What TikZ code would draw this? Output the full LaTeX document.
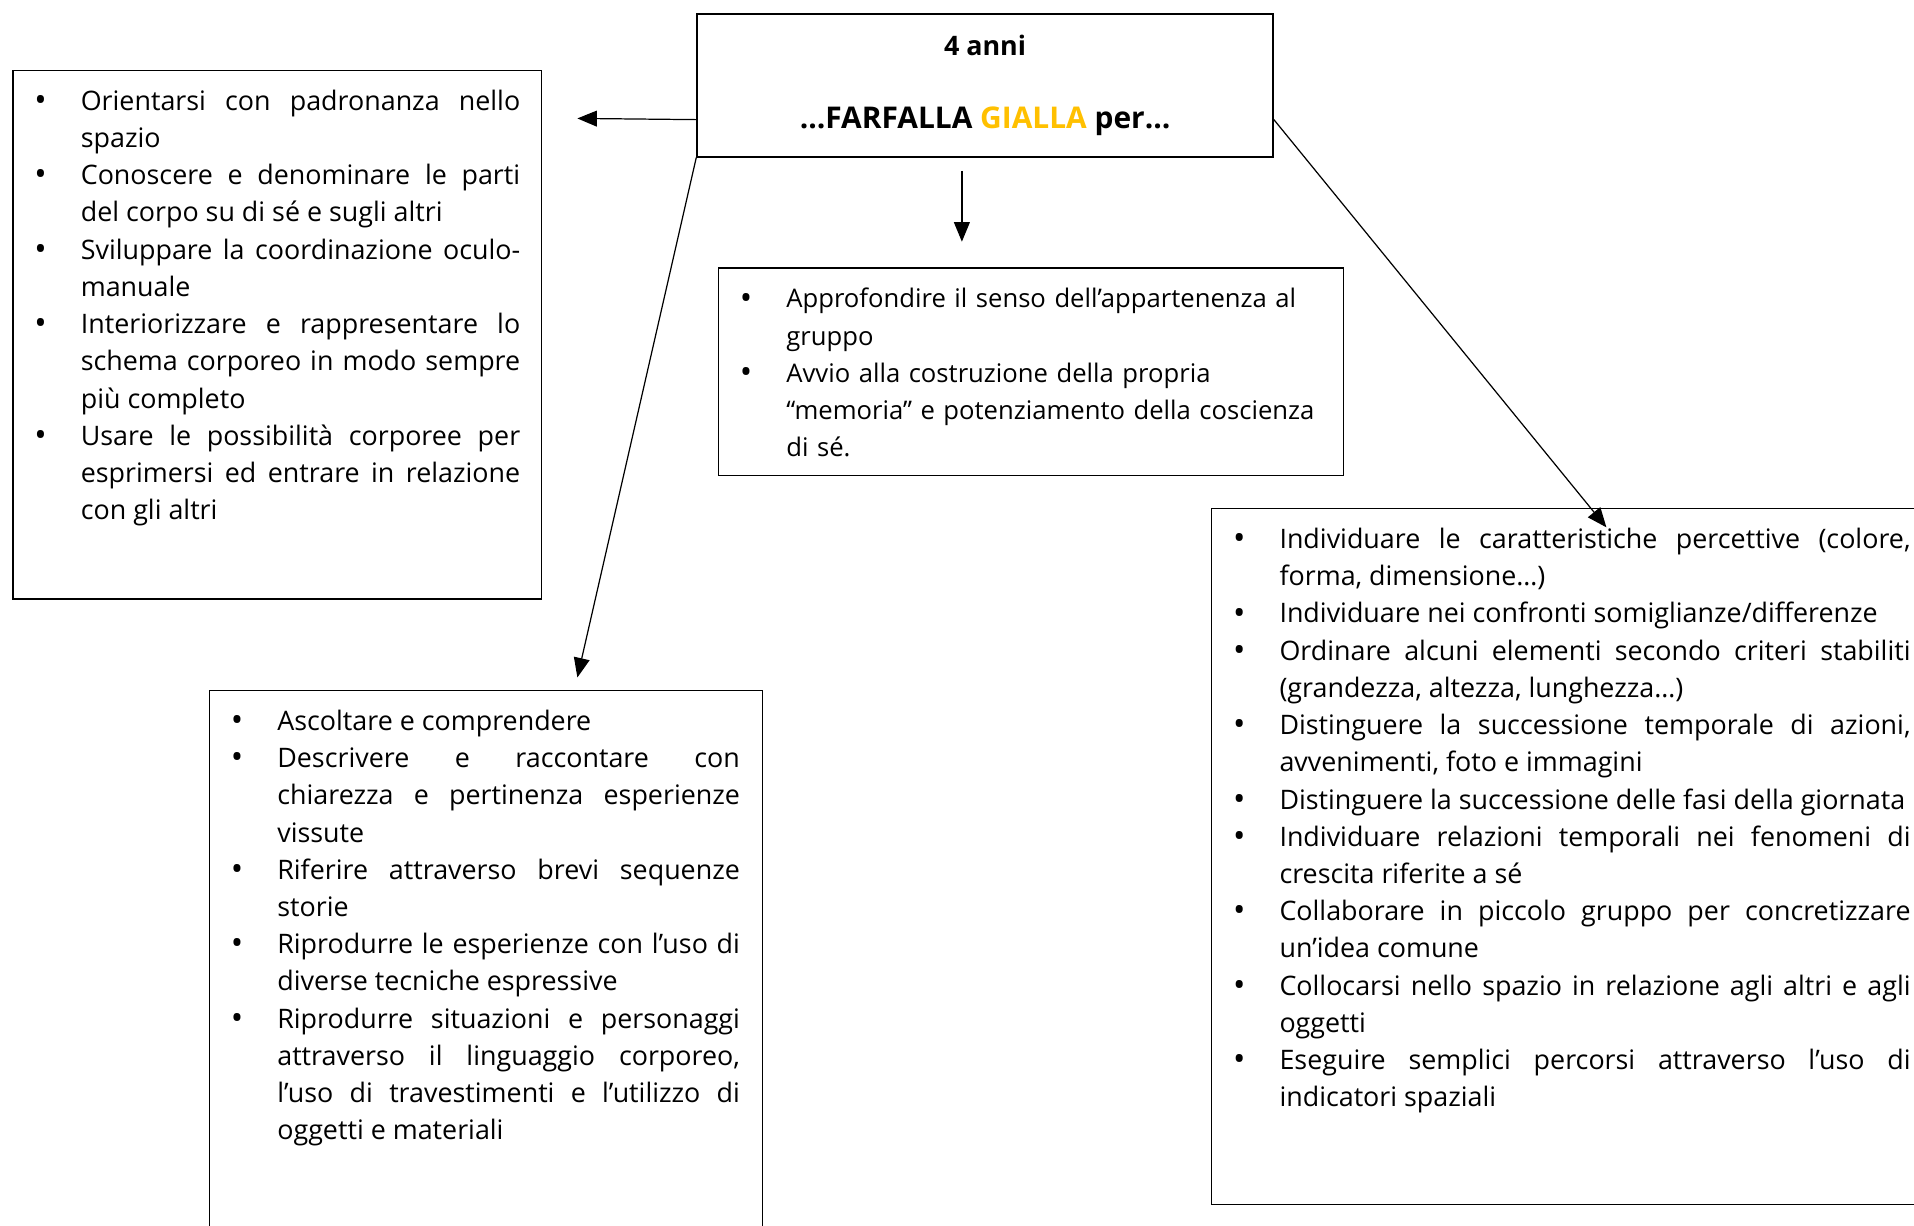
\documentclass[tikz,border=0pt]{standalone}
\usepackage{fontspec}
\setmainfont{Open Sans}
\usetikzlibrary{arrows.meta}

\definecolor{giallo}{HTML}{FFC000}
\tolerance=9999
\hyphenpenalty=10000
\newlength{\rientro}
\setlength{\rientro}{38pt}
\newcommand{\punto}{\par\noindent\hangindent=\rientro\hangafter=1\hbox to\rientro{\raisebox{-1pt}{\fontsize{27}{30}\selectfont\textbullet}\hfil}}

\begin{document}
\begin{tikzpicture}
	[x=1pt,y=-1pt,
	riquadro/.style={draw,line width=1.2pt,inner sep=0pt},
	elenco/.style={inner sep=0pt,anchor=north west,align=justify,
		font=\fontsize{22}{30.5}\selectfont},
	freccia/.style={-{Triangle[length=16pt,width=13pt]},line width=1pt}]
	\useasboundingbox (0,0) rectangle (1568,1004);

	% titolo
	\node[riquadro,minimum width=472,minimum height=117,align=center,
		font=\fontsize{22}{30.5}\selectfont\bfseries] (centro) at (807,70)
		{4 anni\\[30pt]{\fontsize{24.5}{30.5}\selectfont …FARFALLA \textcolor{giallo}{GIALLA} per…}};

	% riquadri
	\node[riquadro,minimum width=433,minimum height=433,anchor=north west] (motorio) at (10,57) {};
	\node[riquadro,minimum width=512,minimum height=170,anchor=north west] (identita) at (588,219) {};
	\node[riquadro,minimum width=453,minimum height=470,anchor=north west] (linguaggi) at (171,565) {};
	\node[riquadro,minimum width=593,minimum height=570,anchor=north west] (mondo) at (992,416) {};

	% testi
	\node[elenco,text width=398] (tmotorio) at ([xshift=18pt,yshift=-2.6pt]motorio.north west) {%
		\punto Orientarsi con padronanza nello\linebreak spazio
		\punto Conoscere e denominare le parti\linebreak del corpo su di sé e sugli altri
		\punto Sviluppare la coordinazione oculo-\linebreak manuale
		\punto Interiorizzare e rappresentare lo\linebreak schema corporeo in modo sempre\linebreak più completo
		\punto Usare le possibilità corporee per\linebreak esprimersi ed entrare in relazione\linebreak con gli altri\par};
	\node[elenco,align=left,text width=500,font=\fontsize{21}{30.5}\selectfont] (tidentita) at ([xshift=18pt,yshift=-2.6pt]identita.north west) {%
		\punto Approfondire il senso dell’appartenenza al\linebreak gruppo
		\punto Avvio alla costruzione della propria\linebreak “memoria” e potenziamento della coscienza\linebreak di sé.\par};
	\node[elenco,text width=417] (tlinguaggi) at ([xshift=18pt,yshift=-2.6pt]linguaggi.north west) {%
		\punto Ascoltare e comprendere
		\punto Descrivere e raccontare con\linebreak chiarezza e pertinenza esperienze\linebreak vissute
		\punto Riferire attraverso brevi sequenze\linebreak storie
		\punto Riprodurre le esperienze con l’uso di\linebreak diverse tecniche espressive
		\punto Riprodurre situazioni e personaggi\linebreak attraverso il linguaggio corporeo,\linebreak l’uso di travestimenti e l’utilizzo di\linebreak oggetti e materiali\par};
	\node[elenco,text width=555] (tmondo) at ([xshift=18pt,yshift=-2.6pt]mondo.north west) {%
		\punto Individuare le caratteristiche percettive (colore,\linebreak forma, dimensione…)
		\punto Individuare nei confronti somiglianze/differenze
		\punto Ordinare alcuni elementi secondo criteri stabiliti\linebreak (grandezza, altezza, lunghezza…)
		\punto Distinguere la successione temporale di azioni,\linebreak avvenimenti, foto e immagini
		\punto Distinguere la successione delle fasi della giornata
		\punto Individuare relazioni temporali nei fenomeni di\linebreak crescita riferite a sé
		\punto Collaborare in piccolo gruppo per concretizzare\linebreak un’idea comune
		\punto Collocarsi nello spazio in relazione agli altri e agli\linebreak oggetti
		\punto Eseguire semplici percorsi attraverso l’uso di\linebreak indicatori spaziali\par};

	% frecce
	\coordinate (cs) at ([yshift=-28pt]centro.west);
	\coordinate (cd) at ([yshift=-28pt]centro.east);
	\coordinate (ps) at (473,97);
	\coordinate (g1) at (788,140);
	\coordinate (g2) at (788,198);
	\coordinate (pb) at (473,555);
	\coordinate (pd) at (1316,432);
	\path
	\foreach \da/\a in {cs/ps, g1/g2, centro.south west/pb, cd/pd}
	{
		(\da) edge[freccia] (\a)
	};
\end{tikzpicture}
\end{document}
